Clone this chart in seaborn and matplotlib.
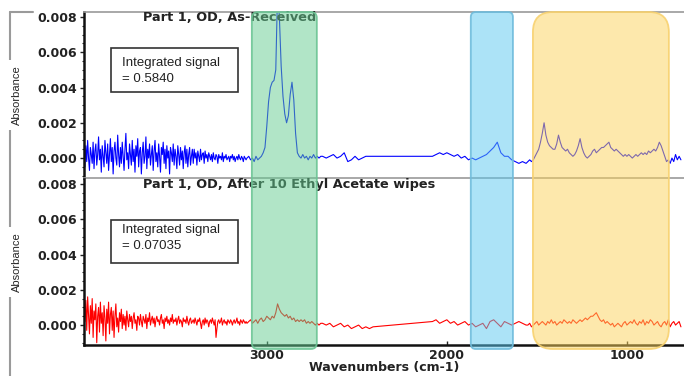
import numpy as np
import pandas as pd
import seaborn as sns
import matplotlib.pyplot as plt
from matplotlib.patches import FancyBboxPatch, Rectangle
from matplotlib.lines import Line2D
from matplotlib.transforms import IdentityTransform
from matplotlib.ticker import MultipleLocator
from matplotlib.colors import to_rgba

# Absorbance, in units of 1e-4.
# Each spectrum is split in segments over these wavenumber ranges (cm-1);
# the 2410-2080 region has no points (drawn as a straight line).
seg_ranges = [(4015, 3110), (3100, 2700), (2690, 2410), (2080, 1560), (1550, 700)]

received_a = [3, -5, 7, -2, 10, 0, -7, 6, 2, -3, 9, -6, 4, 8, -4, 2, 12, -1, 5, -8,
              7, 1, -5, 10, 3, -3, 8, -7, 2, 11, -2, 6, -9, 4, 9, 0, -4, 13, 2, -5,
              6, -3, 9, 1, -7, 5, 14, -1, 3, -6, 8, 2, -4, 10, -2, 5, -8, 7, 1, 11,
              -5, 4, 6, -9, 3, 9, -3, 1, 12, -6, 5, 0, 8, -4, 2, 7, -7, 4, 10, -2,
              3, -5, 8, 1, -8, 6, 2, 9, -3, 5, -6, 7, 0, 4, -9, 6, 3, -2, 8, -4,
              5, 1, -6, 7, 2, -4, 6, -1, 4, -6, 3, 7, -3, 5, -5, 2, 6, -4, 1, 5,
              -3, 5, 0, 3, -4, 4, 1, -2, 5, -1, 2, 3, -3, 4, 0, 2, -2, 3, 1, -1,
              2, -2, 3, 0, -1, 2, 1, -3, 2, 0, 1, -1, 3, -2, 1, 0, 2, -1, 0, 1,
              -2, 1, 0, 2, -1, 1, -2, 0, 1, -1, 2, 0, -1, 1, 0, -2, 1, 0, -1, 0]
received_b = [1, -1, 0, -2, 1, -1, 0, 1, 3, 6, 18, 32, 40, 43, 44, 50, 95, 80, 52, 35,
              25, 20, 24, 36, 43, 33, 14, 3, 1, 0, 2, 0, 1, -1, 1, 0, 2, 0, 1, 0, 1]
received_c = [1, 0, 1, 2, 0, 1, 3, -2, -1, 1, -1, 0, 1, 1, 1]
received_d = [1, 2, 3, 2, 3, 2, 1, 2, 0, 1, -1, 0, -1, 0, 1, 2, 4, 6, 9, 3,
              1, 1, -1, -2, -3, -2, -3]
received_e = [-2, -1, -2, -1, 1, 3, 5, 9, 14, 20, 13, 9, 7, 6, 5, 5, 8, 13, 9, 6,
              5, 4, 5, 3, 2, 1, 2, 4, 7, 11, 6, 3, 1, 0, 1, 2, 4, 5, 3, 4,
              5, 6, 6, 7, 8, 9, 6, 5, 4, 5, 4, 3, 2, 1, 2, 1, 2, 1, 0, 1,
              2, 1, 2, 3, 2, 3, 2, 4, 3, 4, 5, 4, 6, 9, 7, 4, 1, -2, -1, -3,
              0, -2, 2, -1, 1, -1]

wiped_a = [10, 2, 14, -3, 16, 6, -5, 11, 1, 15, -7, 8, 3, 12, -10, 5, 10, -4, 13, 1,
           7, -6, 11, 4, -9, 9, 1, 13, -5, 6, 10, -3, 8, -7, 5, 12, -1, 4, -4, 7,
           2, 9, -2, 6, 0, 5, -3, 8, 3, -1, 6, 2, 5, -2, 4, 7, 1, 3, -3, 5,
           4, 0, 6, 2, -1, 5, 3, 1, 6, -2, 4, 2, 7, 0, 3, 5, 1, 4, -1, 3,
           5, 2, 3, 0, 4, 6, 1, 3, -2, 4, 2, 5, 1, 3, 0, 4, 2, 6, 1, 3,
           2, 4, 0, 3, 5, 1, 3, 2, -1, 4, 2, 3, 1, 5, 2, 0, 3, 4, 1, 2,
           3, 1, 4, 2, 0, 3, 2, 4, 1, -2, 2, 3, 0, 4, 1, 3, 2, -1, 2, 3,
           1, 4, 2, 0, 3, -7, -2, 2, 3, 1, 2, 4, 0, 2, 3, 1, 2, 0, 3, 2,
           1, 3, 2, 0, 2, 3, 1, 2, 4, 1, 2, 0, 3, 2, 1, 3, 2, 1, 2, 1]
wiped_b = [2, 3, 1, 2, 3, 1, 3, 4, 2, 3, 5, 4, 3, 5, 4, 7, 12, 9, 7, 6,
           5, 6, 4, 5, 3, 4, 2, 3, 2, 3, 2, 3, 1, 2, 1, 2, 1, 0, 1, 0, 1]
wiped_c = [1, 0, 1, -1, 0, 1, -1, 0, -2, -1, 0, -2, -1, -2, -1]
wiped_d = [2, 3, 1, 2, 3, 1, 2, 0, 1, 2, 0, 1, -1, 0, 1, -2, 2, 3, 1, -1,
           2, 1, 0, 1, 2, 1, 0]
wiped_e = [0, 1, -1, 0, 1, 2, 0, 1, 2, 1, 0, 2, 1, 3, 1, 2, 0, 1, 2, 1,
           3, 2, 1, 2, 1, 3, 2, 1, 2, 3, 2, 3, 4, 3, 4, 5, 5, 6, 7, 5,
           3, 2, 3, 1, 2, 1, 0, 1, -1, 0, 1, 0, -1, 1, 2, 0, 1, 2, 1, 3,
           1, 0, 2, 1, 3, 0, 2, 1, 3, 2, 0, 1, 2, 0, -1, 1, 2, 0, 3, -1,
           1, 2, 0, 1, 2, -1]

titles = ['Part 1, OD, As-Received', 'Part 1, OD, After 10 Ethyl Acetate wipes']
signals = ['0.5840', '0.07035']
ytick_values = [0.0, 0.002, 0.004, 0.006, 0.008]
xtick_values = [3000, 2000, 1000]

# shaded regions (cm-1) spanning both panels
band_ranges = [(3083, 2722), (1867, 1633), (1522, 767)]
band_faces = ['#64cd91', '#5ac8f0', '#fcd25a']
band_lines = ['#6cc595', '#6fbcdc', '#f8d270']
band_radius = [6, 5, 20]


def spectrum(segments):
    wn = np.concatenate([np.linspace(a, b, len(v)) for (a, b), v in zip(seg_ranges, segments)])
    absorb = np.concatenate([np.array(v, dtype=float) for v in segments]) * 1e-4
    return pd.DataFrame({'wn': wn, 'absorbance': absorb})


received = spectrum([received_a, received_b, received_c, received_d, received_e])
wiped = spectrum([wiped_a, wiped_b, wiped_c, wiped_d, wiped_e])

sns.set_style('white')
plt.rcParams['font.family'] = ['DejaVu Sans']

W, H = 684, 376
fig = plt.figure(figsize=(W / 100, H / 100), dpi=100)
ax_top = fig.add_axes([84 / W, 1 - 178 / H, 600 / W, 166 / H])
ax_bot = fig.add_axes([84 / W, 1 - 345 / H, 600 / W, 166 / H])

for ax, df, color, title, signal in zip([ax_top, ax_bot], [received, wiped],
                                        ['#0000ff', '#ff0000'], titles, signals):
    sns.lineplot(data=df, x='wn', y='absorbance', ax=ax, color=color, lw=0.8,
                 sort=False, estimator=None)
    ax.set_xlim(4015, 683)
    ax.set_ylim(-0.00113, 0.00828)
    ax.set_yticks(ytick_values)
    ax.set_yticklabels([f'{v:.3f}' for v in ytick_values], fontsize=9, fontweight='bold',
                       color='#222222')
    ax.yaxis.set_minor_locator(MultipleLocator(0.0005))
    ax.tick_params(axis='y', which='major', direction='out', length=3, width=1,
                   color='#222222', pad=2, left=True)
    ax.tick_params(axis='y', which='minor', direction='out', length=1.5, width=0.8,
                   color='#222222', left=True)
    ax.set_ylabel('Absorbance', fontsize=8, family='Liberation Sans',
                  bbox=dict(facecolor='white', edgecolor='none', pad=4))
    ax.yaxis.set_label_coords(-62 / 600, 0.5)
    ax.spines['left'].set_color('#111111')
    ax.spines['left'].set_linewidth(1.8)
    ax.spines['right'].set_visible(False)
    ax.text(0.098, 0.968, title, transform=ax.transAxes, fontsize=9.3,
            fontweight='bold', color='#222222', va='center', ha='left')
    ax.text(0.063, 0.645, 'Integrated signal\n= ' + signal, transform=ax.transAxes,
            fontsize=9.5, family='Liberation Sans', va='center', ha='left',
            linespacing=1.45, color='#222222')

ax_top.add_patch(Rectangle((0.045, 0.518), 0.212, 0.265, transform=ax_top.transAxes,
                           fill=False, edgecolor='#333333', lw=1.2))
ax_bot.add_patch(Rectangle((0.045, 0.494), 0.212, 0.259, transform=ax_bot.transAxes,
                           fill=False, edgecolor='#333333', lw=1.2))

ax_top.set_xticks([])
ax_top.set_xlabel('')
ax_top.spines['top'].set_color('#999999')
ax_top.spines['bottom'].set_color('#999999')
ax_top.spines['top'].set_linewidth(1.2)
ax_top.spines['bottom'].set_linewidth(1.2)

ax_bot.spines['top'].set_visible(False)
ax_bot.spines['bottom'].set_color('#111111')
ax_bot.spines['bottom'].set_linewidth(1.8)
ax_bot.set_xticks(xtick_values)
ax_bot.set_xticklabels([str(v) for v in xtick_values], fontsize=9, fontweight='bold',
                       color='#222222')
ax_bot.tick_params(axis='x', direction='in', length=3, width=1, color='#222222',
                   pad=3, bottom=True)
ax_bot.set_xlabel('Wavenumbers (cm-1)', fontsize=9, fontweight='bold',
                  color='#222222', labelpad=-0.5)

# rounded highlight bands, drawn on top of both panels
for (w0, w1), face, edge, r in zip(band_ranges, band_faces, band_lines, band_radius):
    x0 = ax_bot.transData.transform((w0, 0))[0]
    x1 = ax_bot.transData.transform((w1, 0))[0]
    band = FancyBboxPatch((x0, H - 349), x1 - x0, 337,
                          boxstyle=f'round,pad=0,rounding_size={r}',
                          transform=IdentityTransform(),
                          facecolor=to_rgba(face, 0.5), edgecolor=to_rgba(edge, 0.9),
                          lw=1.3, zorder=5)
    fig.add_artist(band)

# grey bracket on the left edge
fig.add_artist(Line2D([10, 10], [H - 12, 0], transform=IdentityTransform(),
                      color='#9a9a9a', lw=1.5, zorder=0))
fig.add_artist(Line2D([10, 33], [H - 12, H - 12], transform=IdentityTransform(),
                      color='#9a9a9a', lw=1.5, zorder=0))

fig.savefig('out.png', dpi=100)
